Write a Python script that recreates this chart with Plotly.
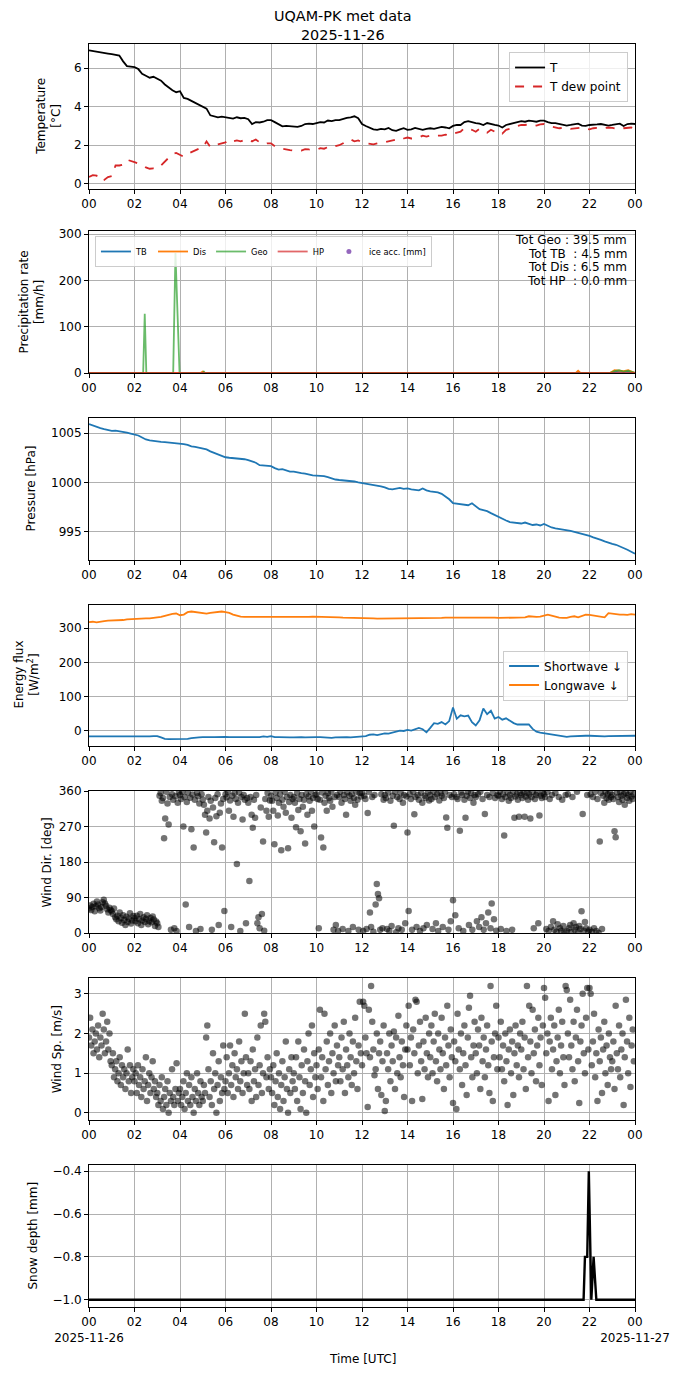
import numpy as np
import plotly.graph_objects as go
from plotly.subplots import make_subplots

# ---- 10-minute series, 2025-11-26 00:00 -> 2025-11-27 00:00 UTC ----
TEMP = [
    6.92, 6.88, 6.85, 6.80, 6.78, 6.75,
    6.72, 6.70, 6.65, 6.35, 6.10, 6.08,
    6.05, 5.95, 5.70, 5.60, 5.50, 5.55,
    5.45, 5.35, 5.15, 5.00, 4.85, 4.75,
    4.80, 4.45, 4.40, 4.30, 4.20, 4.10,
    4.00, 3.90, 3.55, 3.50, 3.45, 3.48,
    3.45, 3.42, 3.38, 3.45, 3.40, 3.42,
    3.35, 3.10, 3.20, 3.18, 3.22, 3.30,
    3.30, 3.20, 3.10, 2.98, 3.00, 2.98,
    2.98, 2.95, 3.00, 3.10, 3.12, 3.10,
    3.15, 3.20, 3.18, 3.28, 3.25, 3.30,
    3.30, 3.38, 3.42, 3.45, 3.50, 3.40,
    3.10, 3.00, 2.90, 2.82, 2.80, 2.85,
    2.82, 2.90, 2.78, 2.75, 2.82, 2.88,
    2.80, 2.82, 2.90, 2.85, 2.80, 2.85,
    2.88, 2.85, 2.90, 2.95, 2.92, 2.88,
    3.00, 3.05, 3.05, 3.20, 3.25, 3.18,
    3.15, 3.12, 3.05, 3.15, 3.08, 3.05,
    3.02, 2.92, 3.05, 3.10, 3.15, 3.20,
    3.25, 3.22, 3.28, 3.25, 3.22, 3.28,
    3.28, 3.20, 3.15, 3.15, 3.10, 3.05,
    3.02, 3.05, 3.10, 3.12, 3.02, 3.00,
    3.05, 3.05, 3.08, 3.10, 3.05, 3.02,
    3.05, 3.08, 3.12, 3.00, 3.10, 3.12,
    3.10,
]
DEW = [
    0.35, 0.45, 0.42, 0.15, 0.20, 0.35,
    0.40, 0.95, 0.95, 1.00, 1.25, 1.20,
    1.12, 1.05, 1.00, 0.85, 0.78, 0.80,
    0.78, 0.95, 1.15, 1.35, 1.55, 1.60,
    1.50, 1.40, 1.55, 1.65, 1.75, 1.82,
    1.85, 2.20, 1.90, 2.00, 2.05, 2.10,
    2.15, 2.30, 2.20, 2.25, 2.20, 2.28,
    2.32, 2.20, 2.30, 2.15, 2.05, 2.10,
    2.10, 1.95, 1.85, 1.82, 1.80, 1.75,
    1.72, 1.75, 1.72, 1.80, 1.78, 1.75,
    1.75, 1.85, 1.82, 1.90, 1.85, 1.95,
    2.00, 2.10, 2.25, 2.30, 2.20, 2.25,
    2.15, 2.10, 2.08, 2.05, 2.10, 2.15,
    2.15, 2.20, 2.25, 2.30, 2.25, 2.35,
    2.40, 2.35, 2.35, 2.40, 2.50, 2.45,
    2.50, 2.45, 2.50, 2.50, 2.55, 2.50,
    2.60, 2.65, 2.70, 2.90, 2.85, 2.80,
    2.70, 2.85, 2.75, 2.65, 2.80, 2.70,
    2.75, 2.60, 2.80, 2.85, 2.95, 3.00,
    3.05, 3.05, 3.10, 3.05, 3.02, 3.08,
    3.10, 3.02, 2.98, 2.92, 2.88, 2.90,
    2.92, 2.85, 2.88, 2.90, 2.92, 2.85,
    2.82, 2.88, 2.90, 2.85, 2.88, 2.92,
    2.90, 2.85, 2.82, 2.88, 2.90, 2.92,
    2.85,
]
PRES = [
    1005.90, 1005.75, 1005.60, 1005.50, 1005.40, 1005.30,
    1005.22, 1005.25, 1005.20, 1005.15, 1005.05, 1004.95,
    1004.88, 1004.75, 1004.55, 1004.35, 1004.25, 1004.18,
    1004.15, 1004.10, 1004.08, 1004.05, 1003.95, 1003.92,
    1003.90, 1003.88, 1003.80, 1003.65, 1003.60, 1003.52,
    1003.45, 1003.35, 1003.15, 1003.00, 1002.90, 1002.75,
    1002.55, 1002.50, 1002.48, 1002.45, 1002.42, 1002.35,
    1002.25, 1002.15, 1002.00, 1001.75, 1001.70, 1001.72,
    1001.65, 1001.45, 1001.30, 1001.35, 1001.25, 1001.10,
    1001.10, 1001.00, 1000.95, 1000.90, 1000.80, 1000.72,
    1000.70, 1000.68, 1000.65, 1000.55, 1000.40, 1000.30,
    1000.25, 1000.22, 1000.20, 1000.15, 1000.10, 1000.02,
    999.95, 999.90, 999.85, 999.80, 999.70, 999.60,
    999.50, 999.35, 999.30, 999.40, 999.45, 999.35,
    999.40, 999.30, 999.25, 999.20, 999.40, 999.20,
    999.10, 999.05, 999.00, 998.85, 998.60, 998.30,
    997.90, 997.85, 997.80, 997.82, 997.70, 997.90,
    997.55, 997.30, 997.20, 997.10, 996.90, 996.70,
    996.55, 996.35, 996.15, 996.00, 995.95, 995.90,
    995.85, 995.95, 995.80, 995.70, 995.75, 995.65,
    995.80, 995.60, 995.45, 995.35, 995.30, 995.20,
    995.15, 995.10, 995.00, 994.90, 994.85, 994.75,
    994.60, 994.45, 994.35, 994.20, 994.05, 993.90,
    993.80, 993.70, 993.55, 993.40, 993.20, 993.00,
    992.80,
]
SW_DOWN = [
    -17, -17, -18, -17, -18, -18,
    -18, -19, -19, -18, -18, -17,
    -18, -17, -17, -17, -17, -16,
    -16, -20, -24, -25, -25, -26,
    -26, -25, -24, -22, -20, -20,
    -19, -18, -19, -19, -18, -19,
    -18, -19, -19, -20, -19, -19,
    -19, -20, -20, -19, -17, -18,
    -16, -19, -19, -20, -20, -20,
    -20, -19, -19, -20, -19, -19,
    -19, -19, -20, -22, -21, -20,
    -19, -19, -19, -20, -19, -18,
    -18, -16, -12, -11, -13, -10,
    -8, -9, -6, -2, 0, -1,
    2, 0, 5, 8, 4, -5,
    8, 22, 20, 25, 18, 28,
    68, 35, 45, 42, 44, 25,
    15, 30, 65, 48, 58, 35,
    40, 32, 36, 28, 22, 18,
    18, 19, 18, 5, -3, -6,
    -8, -10, -10, -12, -15, -17,
    -18, -17, -16, -16, -15, -15,
    -15, -16, -17, -17, -17, -16,
    -16, -15, -14, -14, -14, -15,
    -15,
]
LW_DOWN = [
    318, 319, 317, 320, 321, 322,
    322, 323, 323, 324, 326, 327,
    327, 328, 328, 329, 329, 330,
    331, 333, 336, 340, 342, 343,
    338, 340, 347, 349, 348, 346,
    344, 343, 345, 346, 347, 349,
    347, 345, 340, 336, 334, 333,
    333, 332, 332, 332, 331, 331,
    331, 331, 331, 331, 331, 332,
    332, 332, 333, 333, 333, 334,
    334, 334, 333, 334, 333, 332,
    332, 331, 331, 331, 330, 330,
    329, 329, 329, 329, 328, 328,
    328, 328, 329, 329, 329, 329,
    329, 329, 329, 329, 330, 330,
    330, 330, 330, 330, 331, 331,
    331, 331, 331, 331, 331, 332,
    332, 332, 333, 333, 332, 331,
    330, 330, 330, 331, 331, 331,
    332, 332, 335, 333, 333, 334,
    338, 340, 337, 333, 331, 330,
    330, 333, 335, 332, 337, 340,
    339, 337, 335, 333, 332, 344,
    342, 341, 340, 340, 339, 341,
    340,
]

# ---- precipitation rate [mm/h], breakpoints (hour, value) ----
TB_HOUR = [0, 22.9, 23.1, 23.3, 23.5, 23.7, 23.9, 24]
TB_RATE = [0, 0, 2, 3, 2, 3, 1, 0]
DIS_HOUR = [0, 4.9, 5.0, 5.1, 21.4, 21.5, 21.6, 22.9, 23.1, 23.3, 23.5, 23.7, 23.9, 24]
DIS_RATE = [0, 0, 3, 0, 0, 5, 0, 0, 6, 5, 4, 6, 3, 0]
GEO_HOUR = [0, 2.38, 2.45, 2.52, 3.70, 3.80, 3.98, 5.0, 5.05, 5.1,
            22.9, 23.1, 23.3, 23.5, 23.7, 24]
GEO_RATE = [0, 0, 128, 0, 0, 259, 0, 0, 3, 0, 0, 4, 6, 3, 5, 0]
HP_HOUR = [0, 24]
HP_RATE = [0, 0]
PRECIP_TOTALS = [("Tot Geo : ", 39.5), ("Tot TB\u00a0\u00a0: ", 4.5),
                 ("Tot Dis : ", 6.5), ("Tot HP\u00a0\u00a0: ", 0.0)]

# ---- wind, 3-minute samples ----
WIND_DIR = [
    62, 70, 58, 66, 74, 55, 68, 80, 72, 63, 57, 66, 78, 84, 75, 69, 60, 52, 64, 58,
    55, 48, 62, 40, 35, 44, 30, 52, 38, 26, 45, 33, 20, 41, 28, 36, 50, 24, 32, 43,
    38, 30, 44, 25, 35, 48, 20, 32, 40, 28, 36, 45, 22, 30, 38, 27, 42, 34, 18, 29,
    25, 15, 348, 355, 335, 342, 240, 290, 358, 328, 275, 345, 8, 352, 338, 12, 347, 5, 330, 356,
    350, 340, 358, 270, 345, 72, 332, 356, 15, 343, 263, 351, 217, 338, 5, 355, 347, 328, 10, 352,
    338, 325, 300, 255, 310, 345, 290, 335, 8, 318, 230, 342, 296, 352, 20, 305, 328, 217, 340, 56,
    352, 344, 358, 310, 336, 15, 348, 295, 355, 340, 175, 330, 356, 5, 345, 288, 350, 338, 25, 342,
    330, 132, 345, 300, 267, 338, 292, 350, 25, 40, 12, 318, 48, 232, 6, 340, 310, 355, 295, 336,
    348, 335, 310, 225, 356, 342, 298, 330, 352, 210, 338, 320, 358, 305, 345, 215, 332, 350, 292, 340,
    345, 330, 268, 355, 312, 340, 258, 350, 320, 338, 227, 352, 300, 346, 335, 358, 310, 342, 270, 350,
    352, 340, 12, 338, 242, 356, 217, 330, 348, 310, 355, 342, 335, 358, 320, 8, 345, 20, 350, 5,
    345, 358, 330, 10, 350, 340, 300, 356, 5, 348, 335, 352, 15, 342, 325, 358, 338, 8, 355, 346,
    355, 5, 348, 340, 10, 304, 358, 52, 15, 345, 3, 350, 72, 124, 99, 88, 8, 352, 12, 338,
    350, 342, 10, 356, 5, 335, 18, 348, 272, 358, 2, 345, 12, 340, 355, 8, 330, 350, 25, 346,
    255, 56, 352, 340, 8, 358, 301, 345, 15, 350, 338, 5, 355, 330, 12, 348, 342, 20, 356, 336,
    350, 340, 10, 358, 345, 25, 352, 5, 336, 355, 348, 15, 342, 358, 293, 267, 8, 350, 30, 345,
    83, 352, 45, 345, 340, 12, 259, 356, 350, 5, 338, 292, 348, 358, 20, 342, 355, 8, 330, 350,
    345, 30, 352, 15, 358, 40, 340, 8, 302, 25, 350, 52, 345, 12, 75, 355, 35, 342, 6, 350,
    348, 358, 10, 340, 352, 247, 345, 5, 356, 335, 350, 342, 8, 358, 292, 346, 352, 338, 295, 355,
    350, 342, 358, 295, 346, 355, 338, 352, 290, 345, 358, 12, 340, 350, 355, 25, 298, 348, 342, 356,
    352, 345, 10, 358, 5, 340, 15, 350, 30, 8, 355, 3, 22, 345, 12, 6, 338, 18, 2, 350,
    5, 352, 12, 20, 3, 345, 25, 8, 15, 358, 2, 18, 10, 55, 302, 6, 28, 12, 350, 4,
    8, 352, 3, 345, 12, 358, 5, 340, 0, 232, 355, 10, 348, 330, 358, 342, 352, 338, 356, 345,
    350, 340, 258, 243, 356, 345, 332, 358, 348, 338, 352, 325, 355, 342, 350, 335, 358, 346, 340, 352,
]
WIND_SPD = [
    1.9, 2.4, 1.7, 2.1, 1.5, 1.8, 2.0, 1.6, 2.2, 1.4, 1.9, 1.7, 2.5, 2.1, 1.5, 1.8, 2.3, 1.6, 2.0, 1.3,
    1.2, 1.5, 0.9, 1.1, 1.3, 0.8, 1.0, 1.4, 0.7, 1.2, 0.9, 1.1, 0.6, 1.0, 1.6, 0.8, 1.2, 0.5, 0.9, 1.1,
    0.8, 1.0, 0.5, 1.2, 0.7, 0.9, 0.4, 1.1, 0.6, 0.8, 1.4, 0.3, 0.7, 1.0, 0.5, 0.9, 1.3, 0.6, 0.8, 0.4,
    0.5, 0.2, 0.7, 0.3, 0.9, 0.1, 0.4, 0.6, 0.2, 0.8, 0.0, 0.5, 0.3, 1.1, 0.4, 0.2, 0.6, 1.25, 0.3, 0.5,
    0.6, 0.2, 0.4, 0.8, 0.1, 0.5, 1.0, 0.3, 0.7, 0.2, 0.9, 0.4, 0.0, 0.6, 0.3, 1.0, 0.5, 0.2, 0.8, 0.4,
    0.3, 0.7, 0.5, 1.9, 2.2, 1.1, 0.4, 0.8, 0.2, 1.5, 0.6, 1.0, 0.0, 0.7, 1.3, 0.3, 0.9, 0.5, 1.7, 0.6,
    0.8, 1.4, 0.5, 1.0, 1.7, 0.7, 1.2, 0.4, 1.5, 0.9, 1.1, 0.6, 1.8, 0.8, 1.3, 0.5, 1.0, 2.5, 1.4, 0.7,
    1.0, 0.6, 1.3, 0.3, 1.6, 0.8, 1.1, 0.4, 1.9, 0.7, 1.2, 2.2, 0.5, 1.0, 2.5, 2.3, 0.9, 1.4, 0.6, 1.1,
    0.9, 0.5, 1.2, 0.2, 0.8, 1.5, 0.4, 1.0, 0.1, 0.7, 1.3, 0.3, 0.9, 1.8, 0.6, 0.0, 1.1, 0.5, 1.4, 0.8,
    1.0, 0.6, 1.4, 0.3, 1.8, 0.9, 0.1, 1.2, 0.5, 1.6, 0.8, 0.0, 1.3, 2.0, 0.7, 1.1, 2.2, 0.4, 1.5, 0.9,
    1.2, 0.6, 1.6, 2.6, 0.9, 1.4, 0.3, 2.5, 1.1, 1.8, 0.7, 1.3, 2.0, 0.5, 1.5, 1.0, 2.2, 0.8, 1.7, 1.2,
    1.4, 0.8, 1.9, 1.1, 2.3, 0.5, 1.6, 1.2, 0.9, 2.0, 1.4, 0.7, 1.8, 1.0, 2.4, 1.3, 0.6, 1.7, 2.8, 1.5,
    1.2, 2.8, 2.7, 1.9, 1.5, 0.15, 2.6, 1.4, 3.2, 2.3, 1.6, 0.95, 1.1, 2.0, 0.6, 1.5, 1.8, 0.45, 1.3, 2.2,
    0.05, 0.3, 1.5, 1.1, 2.0, 0.8, 1.7, 1.3, 2.05, 0.6, 1.9, 1.0, 2.45, 1.4, 0.9, 1.8, 1.2, 0.4, 1.6, 2.2,
    1.6, 2.7, 1.2, 1.9, 0.3, 2.1, 1.5, 2.85, 2.8, 1.0, 1.7, 2.3, 1.3, 0.35, 1.8, 1.1, 2.4, 1.5, 0.9, 2.0,
    1.4, 2.2, 1.0, 1.8, 2.5, 1.3, 0.8, 2.0, 1.6, 1.1, 2.4, 1.5, 0.6, 1.9, 1.2, 2.7, 1.7, 0.9, 2.1, 1.4,
    0.25, 1.8, 1.3, 0.1, 2.5, 1.6, 1.1, 2.0, 0.7, 1.5, 2.2, 1.2, 0.45, 1.9, 2.65, 2.95, 1.4, 0.9, 1.7, 2.3,
    1.5, 1.0, 2.1, 1.7, 0.6, 2.4, 1.3, 1.9, 0.9, 1.6, 2.2, 1.2, 0.5, 3.2, 1.8, 0.3, 1.4, 2.0, 2.7, 1.1,
    1.9, 1.4, 2.3, 1.1, 1.7, 0.8, 2.0, 1.3, 0.2, 1.6, 2.1, 1.0, 1.8, 0.45, 1.5, 2.2, 1.2, 1.7, 0.9, 2.0,
    1.6, 2.3, 1.1, 1.9, 0.6, 3.2, 1.4, 2.7, 1.8, 1.0, 2.6, 1.5, 2.1, 0.8, 1.7, 2.4, 1.2, 1.9, 0.7, 2.2,
    3.15, 2.9, 1.5, 2.0, 0.3, 1.8, 2.4, 1.1, 1.6, 2.2, 0.45, 1.3, 1.9, 2.6, 1.0, 1.7, 2.3, 1.4, 0.7, 3.2,
    3.1, 2.0, 1.4, 2.85, 1.7, 1.1, 2.3, 0.8, 1.9, 2.6, 1.3, 0.25, 1.8, 2.2, 3.0, 1.5, 1.0, 2.4, 3.15, 1.6,
    3.15, 3.0, 1.2, 1.8, 2.5, 0.9, 1.5, 0.3, 2.1, 1.3, 1.9, 0.5, 1.6, 2.3, 1.0, 1.7, 0.7, 2.0, 1.4, 1.1,
    1.3, 1.8, 0.6, 2.7, 1.5, 1.1, 2.2, 0.9, 1.6, 2.0, 0.2, 1.4, 2.85, 1.8, 1.0, 2.4, 0.65, 1.7, 2.1, 1.3,
]

# ---- snow depth [mm], breakpoints ----
SNOW_HOUR = [0, 21.74, 21.8, 21.9, 21.97, 22.08, 22.18, 22.3, 24]
SNOW_DEPTH = [-1.0, -1.0, -0.8, -0.8, -0.4, -1.0, -0.8, -1.0, -1.0]

TICK_HOURS = list(range(0, 25, 2))
TICK_TEXT = ["00", "02", "04", "06", "08", "10", "12", "14", "16", "18", "20", "22", "00"]
TICK_TEXT_BOTTOM = ["00<br>2025-11-26"] + TICK_TEXT[1:-1] + ["00<br>2025-11-27"]

t10 = np.arange(len(TEMP)) / 6.0
t3 = np.arange(len(WIND_DIR)) / 20.0

# screen-pixel layout (page body has an 8 px margin)
PAGE_OFF = 8
FIG_W, FIG_H = 690 - 2 * PAGE_OFF, 1377 - 2 * PAGE_OFF
LEFT, RIGHT, TOP, BOTTOM = 89, 640, 44, 1307
PANEL_TOP = [44, 231, 418, 605, 791, 978, 1165]
PANEL_BOT = [189, 373, 560, 746, 933, 1120, 1307]


def fx(px):
    return (px - LEFT) / (RIGHT - LEFT)


def fy(px):
    return (BOTTOM - px) / (BOTTOM - TOP)


FONT = "DejaVu Sans"
fig = make_subplots(rows=7, cols=1)

# Temperature
fig.add_trace(go.Scatter(x=t10, y=TEMP, mode="lines", name="T",
                         line=dict(color="black", width=1.8)), row=1, col=1)
fig.add_trace(go.Scatter(x=t10, y=DEW, mode="lines", name="T dew point",
                         line=dict(color="#d62728", width=1.8, dash="dash")), row=1, col=1)

# Precipitation
fig.add_trace(go.Scatter(x=TB_HOUR, y=TB_RATE, mode="lines", name="TB", legend="legend2",
                         line=dict(color="#1f77b4", width=1.8)), row=2, col=1)
fig.add_trace(go.Scatter(x=DIS_HOUR, y=DIS_RATE, mode="lines", name="Dis", legend="legend2",
                         line=dict(color="#ff7f0e", width=1.8)), row=2, col=1)
fig.add_trace(go.Scatter(x=GEO_HOUR, y=GEO_RATE, mode="lines", name="Geo", legend="legend2",
                         opacity=0.7, line=dict(color="#2ca02c", width=1.8, simplify=False)),
              row=2, col=1)
fig.add_trace(go.Scatter(x=HP_HOUR, y=HP_RATE, mode="lines", name="HP", legend="legend2",
                         opacity=0.7, line=dict(color="#d62728", width=1.8)), row=2, col=1)
fig.add_trace(go.Scatter(x=[None], y=[None], mode="markers", name="ice acc. [mm]", legend="legend2",
                         marker=dict(color="#9467bd", size=5)), row=2, col=1)

# Pressure
fig.add_trace(go.Scatter(x=t10, y=PRES, mode="lines", showlegend=False,
                         line=dict(color="#1f77b4", width=1.8)), row=3, col=1)

# Radiation
fig.add_trace(go.Scatter(x=t10, y=SW_DOWN, mode="lines", name="Shortwave \u2193", legend="legend3",
                         line=dict(color="#1f77b4", width=1.8)), row=4, col=1)
fig.add_trace(go.Scatter(x=t10, y=LW_DOWN, mode="lines", name="Longwave \u2193", legend="legend3",
                         line=dict(color="#ff7f0e", width=1.8)), row=4, col=1)

# Wind
wind_marker = dict(color="black", opacity=0.55, size=6.5, line=dict(width=0))
fig.add_trace(go.Scatter(x=t3, y=WIND_DIR, mode="markers", showlegend=False,
                         marker=wind_marker), row=5, col=1)
fig.add_trace(go.Scatter(x=t3, y=WIND_SPD, mode="markers", showlegend=False,
                         marker=wind_marker), row=6, col=1)

# Snow depth
fig.add_trace(go.Scatter(x=SNOW_HOUR, y=SNOW_DEPTH, mode="lines", showlegend=False,
                         line=dict(color="black", width=2.4)), row=7, col=1)

axis_style = dict(showline=True, mirror=True, linecolor="black", linewidth=1,
                  ticks="outside", ticklen=4, tickcolor="black", tickwidth=1,
                  showgrid=True, gridcolor="#b0b0b0", gridwidth=1, zeroline=False,
                  tickfont=dict(family=FONT, size=12, color="black"))
fig.update_xaxes(**axis_style, range=[0, 24], tickmode="array",
                 tickvals=TICK_HOURS, ticktext=TICK_TEXT)
fig.update_xaxes(ticktext=TICK_TEXT_BOTTOM, row=7, col=1)
fig.update_yaxes(**axis_style)

for i in range(7):
    key = "yaxis" if i == 0 else f"yaxis{i + 1}"
    fig.layout[key].domain = [fy(PANEL_BOT[i]), fy(PANEL_TOP[i])]

fig.update_yaxes(range=[-0.27, 7.25], dtick=2, row=1, col=1)
fig.update_yaxes(range=[0, 306.5], dtick=100, row=2, col=1)
fig.update_yaxes(range=[992.16, 1006.52], dtick=5, row=3, col=1)
fig.update_yaxes(range=[-45, 368], dtick=100, row=4, col=1)
fig.update_yaxes(range=[0, 360], tickvals=[0, 90, 180, 270, 360], row=5, col=1)
fig.update_yaxes(range=[-0.18, 3.4], dtick=1, row=6, col=1)
fig.update_yaxes(range=[-1.034, -0.371], tickvals=[-1.0, -0.8, -0.6, -0.4],
                 ticktext=["\u22121.0", "\u22120.8", "\u22120.6", "\u22120.4"], row=7, col=1)

# y labels as rotated annotations (x centre px, y centre px)
YLABELS = [
    ("Temperature<br>[°C]", 48, 116.5),
    ("Precipitation rate<br>[mm/h]", 31, 302),
    ("Pressure [hPa]", 30, 489),
    ("Energy flux<br>[W/m<sup>2</sup>]", 26, 675),
    ("Wind Dir. [deg]", 47, 862),
    ("Wind Sp. [m/s]", 57, 1049),
    ("Snow depth [mm]", 32, 1236),
]
annotations = []
for text, xp, yp in YLABELS:
    annotations.append(dict(text=text, x=fx(xp), y=fy(yp), xref="paper", yref="paper",
                            xanchor="center", yanchor="middle", textangle=-90,
                            showarrow=False, font=dict(family=FONT, size=12, color="black")))
# precipitation totals, one line each (right aligned)
for k, (label, total) in enumerate(PRECIP_TOTALS):
    annotations.append(dict(text="%s%.1f mm" % (label, total), x=fx(634), y=fy(240 + 13.7 * k),
                            xref="paper", yref="paper", xanchor="right", yanchor="middle",
                            showarrow=False, font=dict(family=FONT, size=12, color="black")))
annotations.append(dict(text="Time [UTC]", x=0.5, y=fy(1359), xref="paper", yref="paper",
                        xanchor="center", yanchor="middle", showarrow=False,
                        font=dict(family=FONT, size=12, color="black")))
# figure title, centred on the whole figure
annotations.append(dict(text="UQAM-PK met data<br>2025-11-26", x=fx(345), y=fy(25),
                        xref="paper", yref="paper", xanchor="center", yanchor="middle",
                        showarrow=False, font=dict(family=FONT, size=14.4, color="black")))

legend_box = dict(bordercolor="#cccccc", borderwidth=1, bgcolor="rgba(255,255,255,0.8)")
fig.update_layout(
    width=FIG_W, height=FIG_H,
    margin=dict(l=LEFT - PAGE_OFF, r=FIG_W - (RIGHT - PAGE_OFF),
                t=TOP - PAGE_OFF, b=FIG_H - (BOTTOM - PAGE_OFF)),
    paper_bgcolor="white", plot_bgcolor="white",
    font=dict(family=FONT, size=12, color="black"),
    legend=dict(x=fx(633), xanchor="right", y=fy(52), yanchor="top",
                font=dict(family=FONT, size=12), **legend_box),
    legend2=dict(orientation="h", x=fx(95), xanchor="left", y=fy(236), yanchor="top",
                 font=dict(family=FONT, size=8.3), **legend_box),
    legend3=dict(x=fx(633), xanchor="right", y=fy(675.5), yanchor="middle",
                 font=dict(family=FONT, size=12), **legend_box),
    annotations=annotations,
)

fig.write_html("out.html")
